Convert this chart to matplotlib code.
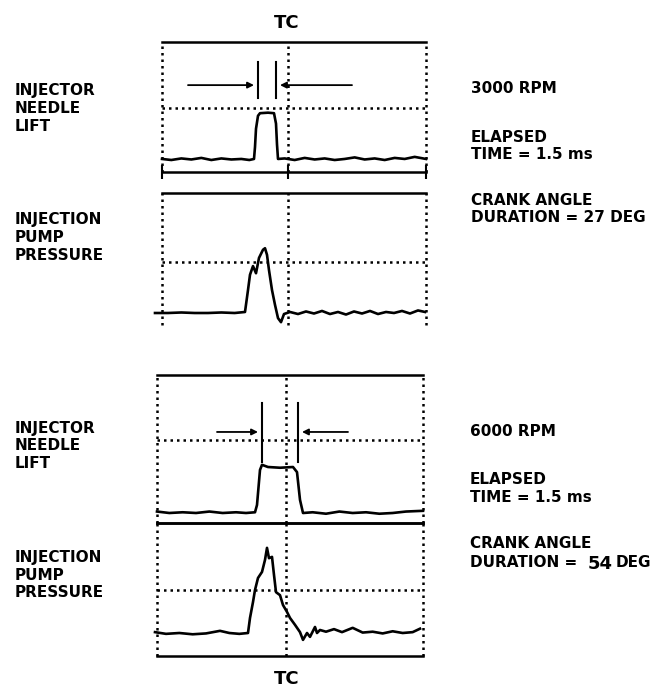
import matplotlib
matplotlib.use("Agg")
import matplotlib.pyplot as plt

# ---------------- data (crank angle deg relative to TC, signal in reference-line units) -------------
# 3000 RPM - injector needle lift
n1_deg = [-189, -175, -160, -145, -130, -115, -100, -85, -70, -58, -51, -49.5, -48, -45, -42,
          -30, -21, -18, -16.5, -15, -5, 10, 25, 40, 55, 70, 85, 100, 115, 130, 145, 160,
          175, 190, 207]
n1_val = [0.02, 0.0, 0.03, 0.01, 0.04, 0.0, 0.03, 0.01, 0.02, 0.0, 0.02, 0.25, 0.6, 0.85, 0.9,
          0.91, 0.9, 0.7, 0.3, 0.02, 0.03, 0.0, 0.04, 0.01, 0.03, 0.0, 0.02, 0.05, 0.01, 0.03,
          0.0, 0.04, 0.02, 0.06, 0.02]
# 3000 RPM - injection pump pressure
p1_deg = [-199.5, -180, -160, -140, -120, -100, -80, -64.5, -60, -57, -52.5, -48, -43.5, -37.5,
          -34.5, -31.5, -28.5, -24, -19.5, -15, -10.5, -6, 3, 15, 27, 39, 51, 63, 75, 87, 99,
          111, 123, 135, 147, 159, 171, 183, 195, 205.5]
p1_val = [0.0, 0.0, 0.01, 0.0, 0.0, 0.01, 0.0, 0.02, 0.45, 0.75, 0.92, 0.78, 1.08, 1.24,
          1.27, 1.14, 0.84, 0.45, 0.16, -0.10, -0.18, -0.02, 0.02, -0.02, 0.03, -0.01, 0.04,
          -0.02, 0.02, -0.03, 0.03, -0.01, 0.04, -0.02, 0.02, 0.0, 0.04, -0.01, 0.05, 0.02]
# 6000 RPM - injector needle lift
n2_deg = [-193.5, -175, -155, -135, -115, -95, -75, -60, -46.5, -43.5, -39, -36, -27, -9,
          10.5, 16.5, 21, 25.5, 40, 60, 80, 100, 120, 140, 160, 180, 205.5]
n2_val = [0.02, 0.0, 0.01, 0.0, 0.02, 0.0, 0.01, 0.0, 0.01, 0.11, 0.59, 0.66, 0.63, 0.62,
          0.63, 0.56, 0.18, 0.0, 0.01, -0.01, 0.02, 0.0, 0.01, -0.01, 0.0, 0.02, 0.03]
# 6000 RPM - injection pump pressure
p2_deg = [-196.5, -180, -160, -140, -120, -99, -85, -70, -57, -54, -49.5, -46.5, -42, -36,
          -31.5, -28.5, -25.5, -21, -18, -15, -9, -4.5, 1.5, 6, 13.5, 21, 25.5, 31.5, 36,
          43.5, 46.5, 51, 60, 72, 84, 100, 115, 130, 145, 160, 175, 190, 201]
p2_val = [0.02, -0.02, 0.0, -0.03, -0.01, 0.05, 0.0, -0.02, 0.0, 0.35, 0.72, 1.0, 1.28, 1.42,
          1.70, 1.98, 1.74, 1.77, 1.35, 0.95, 0.88, 0.65, 0.49, 0.35, 0.19, 0.02, -0.16, 0.0,
          -0.09, 0.14, 0.0, 0.07, 0.03, 0.09, 0.02, 0.12, 0.01, 0.03, -0.01, 0.04, 0.0, 0.02, 0.1]

# duration markers (deg) and their arrow spans
mark1 = [-45, -18]     # 27 deg at 3000 RPM
mark2 = [-36, 18]      # 54 deg at 6000 RPM

left_labels = [["INJECTOR", "NEEDLE", "LIFT"], ["INJECTION", "PUMP", "PRESSURE"]]
right_3000 = ["3000 RPM", "ELAPSED", "TIME = 1.5 ms", "CRANK ANGLE", "DURATION = 27 DEG"]
right_6000 = ["6000 RPM", "ELAPSED", "TIME = 1.5 ms", "CRANK ANGLE", "DURATION = ", "54", "DEG"]

# ---------------- layout ----------------
W, H = 658, 688
fig = plt.figure(figsize=(W / 100, H / 100), dpi=100)
fig.patch.set_facecolor("white")
S = 1.5  # deg per pixel
FONT = dict(family="DejaVu Sans", fontweight="bold", color="black")
DOT = dict(color="black", lw=1.8, ls=(0, (1, 1.6)), dash_capstyle="butt", clip_on=False)
TRACE = dict(color="black", lw=1.9, solid_joinstyle="round", clip_on=False)


def panel(x0, x1, y0, y1, tc, base, ref, top=True, bottom=False):
    ax = fig.add_axes([x0 / W, 1 - y1 / H, (x1 - x0) / W, (y1 - y0) / H])
    ax.set_xlim((x0 - tc) * S, (x1 - tc) * S)
    unit = base - ref
    ax.set_ylim((base - y1) / unit, (base - y0) / unit)
    ax.set_facecolor("none")
    for s in ("left", "right"):
        ax.spines[s].set_visible(False)
    ax.spines["top"].set_visible(top)
    ax.spines["bottom"].set_visible(bottom)
    for s in ("top", "bottom"):
        ax.spines[s].set_linewidth(1.8)
    ax.set_yticks([])
    ax.set_xticks([])
    xl = ax.get_xlim()
    for xv in (xl[0], 0, xl[1]):
        ax.axvline(xv, **DOT)
    ax.axhline(1.0, **DOT)
    return ax


def txt(x, y, s, size=11, ha="left"):
    fig.text(x / W, 1 - y / H, s, ha=ha, va="baseline", fontsize=size, **FONT)


def markers(ax, xs, y0, y1, ya, a_left, a_right):
    for xv in xs:
        ax.plot([xv, xv], [y0, y1], color="black", lw=1.5)
    ap = dict(arrowstyle="-|>", color="black", lw=1.3, mutation_scale=9, shrinkA=0, shrinkB=0)
    ax.annotate("", xy=(xs[0] - 6, ya), xytext=(a_left, ya), arrowprops=ap)
    ax.annotate("", xy=(xs[1] + 6, ya), xytext=(a_right, ya), arrowprops=ap)


# 3000 RPM
ax1 = panel(162, 426, 42, 172, 288, 160, 108, top=True, bottom=True)
ax1.set_xticks([ax1.get_xlim()[0], 0, ax1.get_xlim()[1]])
ax1.set_xticklabels([])
ax1.tick_params(axis="x", direction="inout", length=9.5, width=1.5, colors="black")
ax1.plot(n1_deg, n1_val, **TRACE)
markers(ax1, mark1, 1.19, 1.88, 1.44, -150, 96)

ax2 = panel(162, 426, 193, 325, 288, 313, 262, top=True, bottom=False)
ax2.plot(p1_deg, p1_val, **TRACE)

# 6000 RPM
ax3 = panel(157, 423, 375, 523, 286, 513, 440, top=True, bottom=True)
ax3.plot(n2_deg, n2_val, **TRACE)
markers(ax3, mark2, 0.70, 1.51, 1.11, -103.5, 93)

ax4 = panel(157, 423, 523, 656, 286, 633, 590, top=True, bottom=True)
ax4.plot(p2_deg, p2_val, **TRACE)

# ---------------- text ----------------
txt(287, 28, "TC", size=13, ha="center")
txt(287, 684, "TC", size=13, ha="center")

for base_y, lines in zip([95, 224], left_labels):
    for i, s in enumerate(lines):
        txt(15, base_y + 18 * i, s)
for base_y, lines in zip([433, 562], left_labels):
    for i, s in enumerate(lines):
        txt(15, base_y + 17.5 * i, s)

for yy, s in zip([93, 142, 159, 205, 222], right_3000):
    txt(471, yy, s)
for yy, s in zip([436, 484, 502, 548], right_6000[:4]):
    txt(470, yy, s)
txt(470, 567, right_6000[4])
txt(588, 569, right_6000[5], size=13)
txt(616, 567, right_6000[6])

fig.savefig("out.png", dpi=100, facecolor="white")
